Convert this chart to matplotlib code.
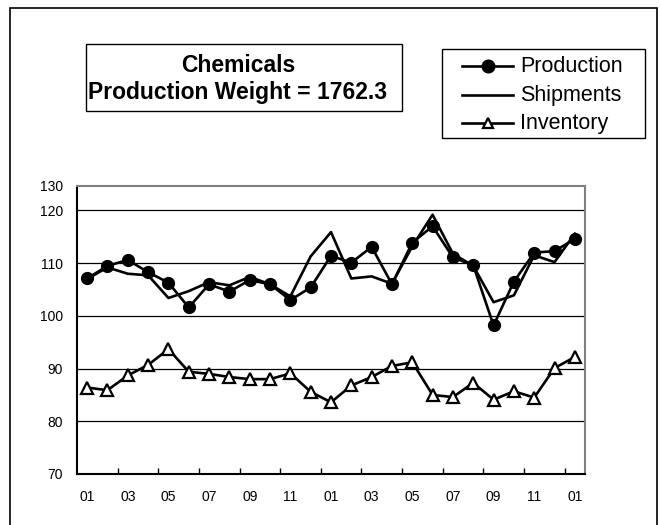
import matplotlib
matplotlib.use("Agg")
import matplotlib.pyplot as plt
from matplotlib.patches import Rectangle
from matplotlib.lines import Line2D

FONT = "Liberation Sans"

# ---- data ----
tick_labels = ["01", "03", "05", "07", "09", "11", "01", "03", "05", "07", "09", "11", "01"]
y_tick_values = [70, 80, 90, 100, 110, 120]
y_tick_labels = ["70", "80", "90", "100", "110", "120", "130"]
production = [107.1, 109.5, 110.6, 108.3, 106.3, 101.6, 106.0, 104.6, 106.8, 106.0, 103.0, 105.4,
              111.4, 110.1, 113.1, 106.0, 113.9, 117.0, 111.1, 109.6, 98.2, 106.5, 112.0, 112.3, 114.6]
shipments = [107.0, 109.2, 108.0, 107.7, 103.4, 104.7, 106.4, 105.8, 107.4, 106.0, 103.7, 111.3,
             115.9, 107.1, 107.5, 106.1, 113.2, 119.2, 111.8, 109.5, 102.6, 103.9, 111.5, 110.2, 115.6]
inventory = [86.4, 85.9, 88.7, 90.7, 93.7, 89.4, 89.0, 88.4, 88.0, 88.0, 89.1, 85.6,
             83.6, 86.8, 88.4, 90.5, 91.2, 85.0, 84.6, 87.3, 84.1, 85.7, 84.5, 90.1, 92.2]
title_lines = ["Chemicals", "Production Weight = 1762.3"]
series_names = ["Production", "Shipments", "Inventory"]

W, H = 661, 525
fig = plt.figure(figsize=(W / 100, H / 100), dpi=100)

# outer border (bottom edge runs past the image)
fig.patches.append(Rectangle((10 / W, -0.05), (657 - 10) / W, (H - 8) / H + 0.05,
                             transform=fig.transFigure, fill=False, edgecolor="black",
                             linewidth=1.2, clip_on=False))

L, R, T, B = 77, 585, 185.7, 474
ax = fig.add_axes([L / W, 1 - B / H, (R - L) / W, (B - T) / H])

x = list(range(len(production)))
ax.plot(x, shipments, color="black", lw=1.9, zorder=3)
ax.plot(x, production, color="black", lw=1.9, marker="o", ms=8.5, zorder=4)
ax.plot(x, inventory, color="black", lw=1.9, marker="^", ms=8.5, mfc="white", mec="black",
        mew=1.6, zorder=4)

ax.set_xlim(-0.5, len(x) - 0.5)
# plot area top sits 24.7 units above the 120 line, where the "130" label is drawn
top = 120 + (210.5 - T) / ((B - 210.5) / 50)
ax.set_ylim(70, top)
ax.set_yticks(y_tick_values + [top])
ax.set_yticklabels(y_tick_labels)
for v in y_tick_values[1:]:
    ax.axhline(v, color="black", lw=0.9, zorder=1)

ax.set_xticks(list(range(0, len(x), 2)))
ax.set_xticklabels(tick_labels)
ax.set_xticks([i + 1.5 for i in range(0, len(x) - 1, 2)], minor=True)
ax.tick_params(axis="x", which="major", length=0, pad=11.5, labelsize=10)
ax.tick_params(axis="x", which="minor", direction="in", length=4, width=1, color="black")
ax.tick_params(axis="y", length=0, pad=10, labelsize=10)
for lab in ax.get_xticklabels() + ax.get_yticklabels():
    lab.set_fontfamily(FONT)

for s in ("left", "bottom"):
    ax.spines[s].set_color("black")
    ax.spines[s].set_linewidth(1.5)
for s in ("top", "right"):
    ax.spines[s].set_color("#808080")
    ax.spines[s].set_linewidth(1.5)

# title box
tx0, tx1, ty0, ty1 = 86, 402, 44, 111
fig.patches.append(Rectangle((tx0 / W, 1 - ty1 / H), (tx1 - tx0) / W, (ty1 - ty0) / H,
                             transform=fig.transFigure, fill=False, edgecolor="black", lw=1.0))
fig.text(238 / W, 1 - 66 / H, title_lines[0], ha="center", va="center",
         fontsize=16.5, fontweight="bold", family=FONT)
fig.text(238 / W, 1 - 93 / H, title_lines[1], ha="center", va="center",
         fontsize=16.5, fontweight="bold", family=FONT)

# legend box
lx0, lx1, ly0, ly1 = 442, 645, 49.5, 138
fig.patches.append(Rectangle((lx0 / W, 1 - ly1 / H), (lx1 - lx0) / W, (ly1 - ly0) / H,
                             transform=fig.transFigure, fill=False, edgecolor="black", lw=1.0))
rows = [66, 95, 123]
markers = ["o", None, "^"]
fills = ["black", None, "white"]
sizes = [8.5, 0, 6.5]
for name, yy, mk, fc, ms in zip(series_names, rows, markers, fills, sizes):
    fig.lines.append(Line2D([462 / W, 513 / W], [1 - yy / H, 1 - yy / H], transform=fig.transFigure,
                            color="black", lw=1.9))
    if mk:
        fig.lines.append(Line2D([488 / W], [1 - yy / H], transform=fig.transFigure,
                                color="black", lw=0, marker=mk, ms=ms,
                                mfc=fc, mec="black", mew=1.6))
    fig.text(520 / W, 1 - yy / H, name, ha="left", va="center", fontsize=15.5, family=FONT)

fig.savefig("out.png", dpi=100)
